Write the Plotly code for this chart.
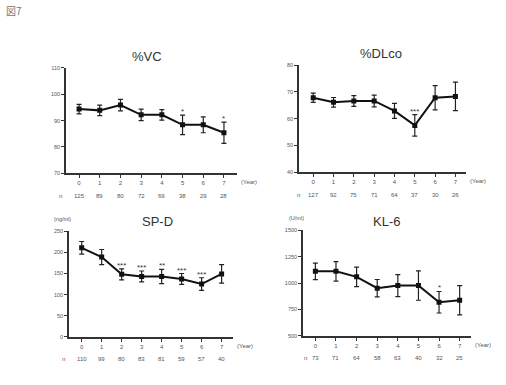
import plotly.graph_objects as go

W, H = 506, 385
years = [0, 1, 2, 3, 4, 5, 6, 7]

vc_mean = [94.4, 93.9, 95.9, 92.2, 92.2, 88.4, 88.4, 85.4]
vc_err = [1.8, 2.0, 2.2, 2.2, 2.0, 3.7, 3.0, 4.0]
vc_n = ["125", "89", "80", "72", "69", "38", "29", "28"]
vc_sig = ["", "", "", "", "", "*", "", "*"]

dl_mean = [67.8, 66.1, 66.6, 66.6, 62.9, 57.5, 67.8, 68.3]
dl_err = [1.7, 1.8, 2.0, 2.2, 2.8, 4.0, 4.5, 5.3]
dl_n = ["127", "92", "75", "71", "64", "37", "30", "26"]
dl_sig = ["", "", "", "", "", "***", "", ""]

spd_mean = [211, 189, 148, 143, 143, 137, 125, 149]
spd_err = [15, 18, 13, 13, 17, 13, 15, 22]
spd_n = ["110", "99", "80", "83", "81", "59", "57", "40"]
spd_sig = ["", "", "***", "***", "**", "***", "***", ""]

kl_mean = [1111, 1111, 1059, 951, 976, 976, 818, 837]
kl_err = [79, 93, 93, 83, 104, 139, 102, 139]
kl_n = ["73", "71", "64", "58", "63", "40", "32", "25"]
kl_sig = ["", "", "", "", "", "", "*", ""]

panels = [
    dict(title="%VC", mean=vc_mean, err=vc_err, n=vc_n, sig=vc_sig,
         x0=66, x1=237, y0=66, y1=173, xr=[-0.63, 7.63], yr=[70, 110],
         ticks=[70, 80, 90, 100, 110], unit=None, tx=147, ty=54, nx=60, ux=0),
    dict(title="%DLco", mean=dl_mean, err=dl_err, n=dl_n, sig=dl_sig,
         x0=299, x1=466, y0=63, y1=172, xr=[-0.70, 7.52], yr=[40, 80],
         ticks=[40, 50, 60, 70, 80], unit=None, tx=381, ty=51, nx=298, ux=0),
    dict(title="SP-D", mean=spd_mean, err=spd_err, n=spd_n, sig=spd_sig,
         x0=69, x1=233, y0=232, y1=339, xr=[-0.635, 7.57], yr=[0, 250],
         ticks=[0, 50, 100, 150, 200, 250], unit="(ng/ml)", tx=157, ty=222, nx=63, ux=62),
    dict(title="KL-6", mean=kl_mean, err=kl_err, n=kl_n, sig=kl_sig,
         x0=303, x1=471, y0=231, y1=338, xr=[-0.6, 7.55], yr=[500, 1500],
         ticks=[500, 750, 1000, 1250, 1500], unit="(U/ml)", tx=386, ty=222, nx=305, ux=296),
]

fig = go.Figure()
TXT = "#555555"
AX = "#333333"
FONT = "Arial"
anns = []
layout = {}
for i, p in enumerate(panels):
    k = "" if i == 0 else str(i + 1)
    xa, ya = "x" + k, "y" + k
    fig.add_trace(go.Scatter(
        x=years, y=p["mean"], xaxis=xa, yaxis=ya, mode="lines+markers",
        line=dict(color="#111111", width=2),
        marker=dict(color="#111111", size=5, symbol="square"),
        error_y=dict(type="data", array=p["err"], color="#222222", thickness=1.2, width=2.5),
        showlegend=False, hoverinfo="skip"))
    layout["xaxis" + k] = dict(
        domain=[p["x0"] / W, p["x1"] / W], range=p["xr"], anchor=ya,
        tickvals=years, ticktext=[str(v) for v in years], ticks="outside", ticklen=3,
        tickcolor=AX, showline=True, linecolor=AX, linewidth=1.6, showgrid=False,
        zeroline=False, tickfont=dict(size=6, color=TXT, family=FONT), fixedrange=True)
    layout["yaxis" + k] = dict(
        domain=[1 - p["y1"] / H, 1 - p["y0"] / H], range=p["yr"], anchor=xa,
        tickvals=p["ticks"], ticks="outside", ticklen=3, tickcolor=AX,
        showline=True, linecolor=AX, linewidth=1.6, showgrid=False, zeroline=False,
        tickfont=dict(size=5.5, color=TXT, family=FONT), fixedrange=True)
    anns.append(dict(x=p["tx"] / W, y=1 - p["ty"] / H, xref="paper", yref="paper",
                     text=p["title"], showarrow=False, xanchor="center", yanchor="middle",
                     font=dict(size=13, color="#333333", family=FONT)))
    anns.append(dict(x=p["x1"] / W + 0.004, y=1 - (p["y1"] + 9) / H, xref="paper", yref="paper",
                     text="(Year)", showarrow=False, xanchor="left", yanchor="middle",
                     font=dict(size=6, color=TXT, family=FONT)))
    anns.append(dict(x=p["nx"] / W, y=1 - (p["y1"] + 23) / H,
                     xref="paper", yref="paper", text="n", showarrow=False,
                     xanchor="center", yanchor="middle",
                     font=dict(size=6, color=TXT, family=FONT)))
    for j, nv in enumerate(p["n"]):
        anns.append(dict(x=years[j], y=1 - (p["y1"] + 23) / H, xref=xa, yref="paper",
                         text=nv, showarrow=False, xanchor="center", yanchor="middle",
                         font=dict(size=6, color=TXT, family=FONT)))
    for j, s in enumerate(p["sig"]):
        if s:
            anns.append(dict(x=years[j], y=p["mean"][j] + p["err"][j], xref=xa, yref=ya,
                             text=s, showarrow=False, xanchor="center", yanchor="bottom", yshift=-3,
                             font=dict(size=8, color="#333333", family=FONT)))
    if p["unit"]:
        anns.append(dict(x=p["ux"] / W, y=1 - (p["y0"] - 13) / H, xref="paper", yref="paper",
                         text=p["unit"], showarrow=False, xanchor="center", yanchor="middle",
                         font=dict(size=5.5, color=TXT, family=FONT)))

anns.append(dict(x=4 / W, y=1 - 8 / H, xref="paper", yref="paper", text="図7",
                 showarrow=False, xanchor="left", yanchor="middle",
                 font=dict(size=10, color="#777777", family="Noto Sans CJK JP")))

fig.update_layout(width=W, height=H, margin=dict(l=0, r=0, t=0, b=0),
                  paper_bgcolor="white", plot_bgcolor="white", annotations=anns, **layout)
fig.write_html("out.html")
